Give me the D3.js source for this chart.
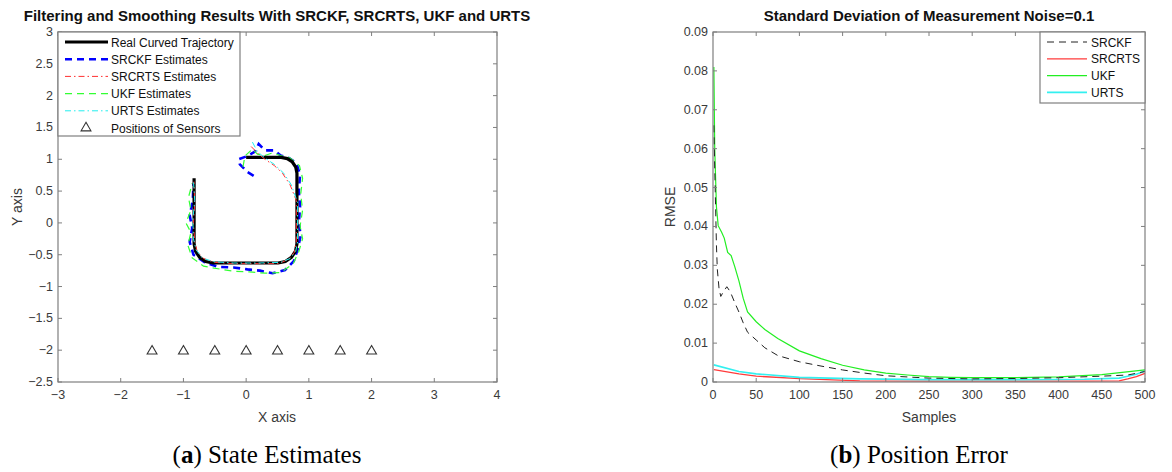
<!DOCTYPE html>
<html>
<head>
<meta charset="utf-8">
<script src="https://cdn.jsdelivr.net/npm/d3@7"></script>
<style>
  body { margin: 0; background: #fff; }
  svg { display: block; font-family: "Liberation Sans", Arial, sans-serif; }
</style>
</head>
<body>
<svg id="chart" width="1172" height="472"></svg>
<script>
// ---- left panel data (x, y positions) ----
const realTrajectory = [[0.0,1.03],[0.56,1.03],[0.656,1.011],[0.737,0.957],[0.791,0.876],[0.81,0.78],
  [0.81,-0.33],[0.787,-0.445],[0.722,-0.542],[0.625,-0.607],[0.51,-0.63],
  [-0.53,-0.63],[-0.645,-0.607],[-0.742,-0.542],[-0.807,-0.445],[-0.83,-0.33],[-0.83,0.7]];
const srckfEst = [[0.12,0.74],[0.02,0.8],[-0.1,0.92],[-0.12,1.0],[0.02,1.05],[0.14,1.12],[0.2,1.24],
  [0.3,1.14],[0.45,1.14],[0.55,1.06],[0.68,1.02],[0.8,0.94],[0.86,0.76],[0.84,0.5],[0.86,0.25],
  [0.84,0.0],[0.87,-0.2],[0.82,-0.42],[0.76,-0.6],[0.62,-0.74],[0.42,-0.79],[0.22,-0.75],[0.02,-0.73],
  [-0.2,-0.7],[-0.45,-0.69],[-0.66,-0.62],[-0.84,-0.5],[-0.9,-0.3],[-0.86,-0.08],[-0.9,0.12],
  [-0.85,0.35],[-0.84,0.62]];
const srcrtsEst = [[0.08,1.2],[0.2,1.08],[0.3,1.0],[0.45,0.9],[0.58,0.78],[0.7,0.6],[0.8,0.35],
  [0.8,-0.3],[0.77,-0.46],[0.68,-0.57],[0.52,-0.64],[0.2,-0.64],[-0.2,-0.64],[-0.5,-0.62],
  [-0.68,-0.56],[-0.78,-0.45],[-0.82,-0.3],[-0.84,0.0],[-0.82,0.3],[-0.83,0.65]];
const ukfEst = [[-0.05,0.88],[-0.02,1.05],[0.1,1.16],[0.18,1.08],[0.3,1.06],[0.42,1.1],[0.55,1.06],
  [0.7,1.02],[0.85,0.9],[0.9,0.7],[0.87,0.45],[0.9,0.2],[0.86,-0.05],[0.9,-0.25],[0.84,-0.45],
  [0.75,-0.64],[0.55,-0.78],[0.3,-0.79],[0.05,-0.77],[-0.2,-0.76],[-0.45,-0.72],[-0.68,-0.68],
  [-0.86,-0.55],[-0.93,-0.35],[-0.88,-0.15],[-0.96,0.0],[-0.88,0.2],[-0.92,0.4],[-0.86,0.62]];
const urtsEst = [[0.1,1.27],[0.18,1.12],[0.3,1.02],[0.45,0.92],[0.6,0.78],[0.72,0.6],[0.82,0.32],
  [0.82,-0.3],[0.79,-0.45],[0.7,-0.56],[0.55,-0.62],[0.2,-0.63],[-0.2,-0.63],[-0.52,-0.61],
  [-0.7,-0.55],[-0.8,-0.42],[-0.84,-0.25],[-0.85,0.05],[-0.82,0.35],[-0.84,0.66]];
const sensorX = [-1.5, -1, -0.5, 0, 0.5, 1, 1.5, 2];
const sensorY = -2;
const leftXTicks = [-3, -2, -1, 0, 1, 2, 3, 4];
const leftYTicks = [-2.5, -2, -1.5, -1, -0.5, 0, 0.5, 1, 1.5, 2, 2.5, 3];

// ---- right panel data (sample, RMSE) ----
const srckfSamples = [1, 2, 3, 4, 5, 7, 9, 12, 16, 20, 25, 30, 35, 40, 50, 60, 75, 100, 125, 150, 175, 200, 250, 300, 350, 400, 450, 480, 500];
const srckfRmse = [0.066, 0.055, 0.045, 0.035, 0.029, 0.024, 0.022, 0.0232, 0.0245, 0.0232, 0.0205, 0.018, 0.0152, 0.0128, 0.0108, 0.0088, 0.0068, 0.0052, 0.0041, 0.0031, 0.0023, 0.0016, 0.001, 0.0008, 0.0009, 0.0011, 0.0015, 0.0018, 0.0027];
const ukfSamples = [1, 2, 4, 6, 10, 13, 17, 21, 25, 30, 35, 40, 50, 60, 75, 100, 125, 150, 175, 200, 225, 250, 275, 300, 350, 400, 450, 500];
const ukfRmse = [0.081, 0.06, 0.045, 0.0402, 0.0385, 0.037, 0.0333, 0.0325, 0.0298, 0.026, 0.0215, 0.018, 0.0155, 0.0135, 0.0112, 0.008, 0.006, 0.0043, 0.0031, 0.0023, 0.0018, 0.0014, 0.0012, 0.0011, 0.0011, 0.0013, 0.0019, 0.0031];
const smoothSamples = [1, 30, 50, 100, 170, 250, 350, 430, 470, 480, 490, 500];
const srcrtsRmse = [0.0032, 0.0021, 0.0015, 0.00085, 0.0003, 0.0002, 0.0002, 0.00022, 0.0003, 0.0008, 0.0014, 0.0022];
const urtsRmse = [0.0044, 0.0027, 0.0021, 0.0012, 0.0008, 0.0006, 0.0006, 0.0007, 0.001, 0.0015, 0.002, 0.0028];
const rightXTicks = [0, 50, 100, 150, 200, 250, 300, 350, 400, 450, 500];
const rightYTicks = [0, 0.01, 0.02, 0.03, 0.04, 0.05, 0.06, 0.07, 0.08, 0.09];

const svg = d3.select("#chart");
const axisColor = "#7f7f7f", textColor = "#3a3a3a";

function drawFrame(x, y, xTicks, yTicks, fmtX, fmtY) {
  const [x0, x1] = x.range(), [y0, y1] = y.range();
  const g = svg.append("g");
  // ticks on all four sides (inside)
  xTicks.forEach(t => {
    g.append("line").attr("x1", x(t)).attr("x2", x(t)).attr("y1", y0).attr("y2", y0 - 4).attr("stroke", axisColor);
    g.append("line").attr("x1", x(t)).attr("x2", x(t)).attr("y1", y1).attr("y2", y1 + 4).attr("stroke", axisColor);
    g.append("text").attr("x", x(t)).attr("y", y0 + 17).attr("text-anchor", "middle")
      .attr("font-size", 12.5).attr("fill", textColor).text(fmtX(t));
  });
  yTicks.forEach(t => {
    g.append("line").attr("x1", x0).attr("x2", x0 + 4).attr("y1", y(t)).attr("y2", y(t)).attr("stroke", axisColor);
    g.append("line").attr("x1", x1).attr("x2", x1 - 4).attr("y1", y(t)).attr("y2", y(t)).attr("stroke", axisColor);
    g.append("text").attr("x", x0 - 5).attr("y", y(t) + 4).attr("text-anchor", "end")
      .attr("font-size", 12.5).attr("fill", textColor).text(fmtY(t));
  });
  g.append("rect").attr("x", x0).attr("y", y1).attr("width", x1 - x0).attr("height", y0 - y1)
    .attr("fill", "none").attr("stroke", axisColor).attr("stroke-width", 1.2);
  return g;
}

// ================= left panel =================
const xL = d3.scaleLinear().domain([-3, 4]).range([58, 497]);
const yL = d3.scaleLinear().domain([-2.5, 3]).range([382, 32]);
const lineL = d3.line().x(d => xL(d[0])).y(d => yL(d[1]));

const leftSeries = [
  { name: "Real Curved Trajectory", data: realTrajectory, color: "#000", width: 3.2, dash: null },
  { name: "SRCKF Estimates", data: srckfEst, color: "#0000ff", width: 2.6, dash: "7,5" },
  { name: "SRCRTS Estimates", data: srcrtsEst, color: "#ff3030", width: 1, dash: "6,3,1.5,3" },
  { name: "UKF Estimates", data: ukfEst, color: "#33ff33", width: 1.2, dash: "7,5" },
  { name: "URTS Estimates", data: urtsEst, color: "#22eeee", width: 1, dash: "6,3,1.5,3" }
];

const drawOrder = [1, 3, 0, 2, 4];
drawOrder.forEach(i => {
  const s = leftSeries[i];
  svg.append("path").attr("d", lineL(s.data)).attr("fill", "none")
    .attr("stroke", s.color).attr("stroke-width", s.width)
    .attr("stroke-dasharray", s.dash);
});

const tri = d3.symbol().type(d3.symbolTriangle).size(42);
svg.selectAll(".sensor").data(sensorX).join("path")
  .attr("class", "sensor")
  .attr("d", tri)
  .attr("transform", d => `translate(${xL(d)},${yL(sensorY) + 1})`)
  .attr("fill", "none").attr("stroke", "#333").attr("stroke-width", 1.1);

drawFrame(xL, yL, leftXTicks, leftYTicks, d3.format(""), d3.format(""));

svg.append("text").attr("x", 277).attr("y", 21).attr("text-anchor", "middle")
  .attr("font-weight", "bold").attr("font-size", 15).attr("fill", "#111")
  .text("Filtering and Smoothing Results With SRCKF, SRCRTS, UKF and URTS");
svg.append("text").attr("x", 277).attr("y", 422).attr("text-anchor", "middle")
  .attr("font-size", 14).attr("fill", textColor).text("X axis");
svg.append("text").attr("transform", "translate(22,207) rotate(-90)").attr("text-anchor", "middle")
  .attr("font-size", 14).attr("fill", textColor).text("Y axis");

// left legend
const legL = svg.append("g");
legL.append("rect").attr("x", 58).attr("y", 32).attr("width", 182).attr("height", 104)
  .attr("fill", "#fff").attr("stroke", axisColor).attr("stroke-width", 1.2);
leftSeries.forEach((s, i) => {
  const yy = 42 + i * 17.2;
  legL.append("line").attr("x1", 65).attr("x2", 108).attr("y1", yy).attr("y2", yy)
    .attr("stroke", s.color).attr("stroke-width", s.width).attr("stroke-dasharray", s.dash);
  legL.append("text").attr("x", 111).attr("y", yy + 4.5).attr("font-size", 12).attr("fill", "#111").text(s.name);
});
legL.append("path").attr("d", d3.symbol().type(d3.symbolTriangle).size(42))
  .attr("transform", `translate(86,${42 + 5 * 17.2})`).attr("fill", "none").attr("stroke", "#333").attr("stroke-width", 1.1);
legL.append("text").attr("x", 111).attr("y", 42 + 5 * 17.2 + 4.5).attr("font-size", 12).attr("fill", "#111")
  .text("Positions of Sensors");

// ================= right panel =================
const xR = d3.scaleLinear().domain([0, 500]).range([713, 1145]);
const yR = d3.scaleLinear().domain([0, 0.09]).range([382, 32]);
const lineR = d3.line().x(d => xR(d[0])).y(d => yR(d[1]));

const rightSeries = [
  { name: "SRCKF", xs: srckfSamples, ys: srckfRmse, color: "#222", width: 1, dash: "7,5" },
  { name: "SRCRTS", xs: smoothSamples, ys: srcrtsRmse, color: "#ff3b3b", width: 1.3, dash: null },
  { name: "UKF", xs: ukfSamples, ys: ukfRmse, color: "#22ee22", width: 1.2, dash: null },
  { name: "URTS", xs: smoothSamples, ys: urtsRmse, color: "#33f0f0", width: 1.6, dash: null }
];
[1, 3, 2, 0].forEach(i => {
  const s = rightSeries[i];
  svg.append("path").attr("d", lineR(s.xs.map((v, k) => [v, s.ys[k]]))).attr("fill", "none")
    .attr("stroke", s.color).attr("stroke-width", s.width).attr("stroke-dasharray", s.dash);
});

drawFrame(xR, yR, rightXTicks, rightYTicks, d3.format(""), t => t === 0 ? "0" : d3.format(".2f")(t));

svg.append("text").attr("x", 929).attr("y", 21).attr("text-anchor", "middle")
  .attr("font-weight", "bold").attr("font-size", 15).attr("fill", "#111")
  .text("Standard Deviation of Measurement Noise=0.1");
svg.append("text").attr("x", 929).attr("y", 422).attr("text-anchor", "middle")
  .attr("font-size", 14).attr("fill", textColor).text("Samples");
svg.append("text").attr("transform", "translate(675,207) rotate(-90)").attr("text-anchor", "middle")
  .attr("font-size", 14).attr("fill", textColor).text("RMSE");

const legR = svg.append("g");
legR.append("rect").attr("x", 1040).attr("y", 32).attr("width", 105).attr("height", 71)
  .attr("fill", "#fff").attr("stroke", axisColor).attr("stroke-width", 1.2);
rightSeries.forEach((s, i) => {
  const yy = 42 + i * 16.8;
  legR.append("line").attr("x1", 1047).attr("x2", 1087).attr("y1", yy).attr("y2", yy)
    .attr("stroke", s.color).attr("stroke-width", s.width).attr("stroke-dasharray", s.dash);
  legR.append("text").attr("x", 1091).attr("y", yy + 4.5).attr("font-size", 12).attr("fill", "#111").text(s.name);
});

// ================= captions =================
function caption(cx, letter, rest) {
  const t = svg.append("text").attr("x", cx).attr("y", 463).attr("text-anchor", "middle")
    .attr("font-family", "'Liberation Serif', 'DejaVu Serif', serif").attr("font-size", 25).attr("fill", "#000");
  t.append("tspan").text("(");
  t.append("tspan").attr("font-weight", "bold").text(letter);
  t.append("tspan").text(") " + rest);
}
caption(267, "a", "State Estimates");
caption(919, "b", "Position Error");
</script>
</body>
</html>
